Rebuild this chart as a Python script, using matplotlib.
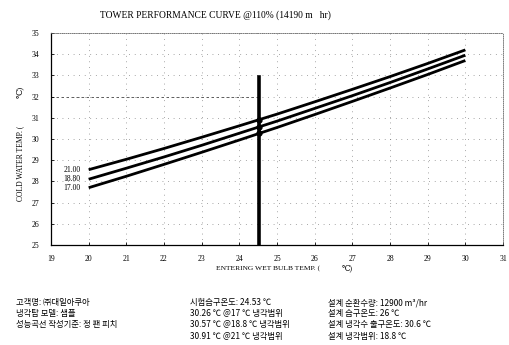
import matplotlib
matplotlib.use("Agg")
import matplotlib.pyplot as plt

# ---- data ----
x_wb = [20, 21, 22, 23, 24, 25, 26, 27, 28, 29, 30]
cw_21 = [28.55, 29.04, 29.55, 30.08, 30.62, 31.17, 31.75, 32.34, 32.94, 33.56, 34.20]
cw_188 = [28.10, 28.62, 29.15, 29.70, 30.27, 30.84, 31.44, 32.04, 32.66, 33.30, 33.95]
cw_17 = [27.70, 28.24, 28.80, 29.37, 29.95, 30.54, 31.15, 31.77, 32.40, 33.04, 33.70]
range_labels = ["21.00", "18.80", "17.00"]
test_wb = 24.53
test_cw = [30.91, 30.57, 30.26]
test_line_top = 32.9
xticks = list(range(19, 32))
yticks = list(range(25, 36))

col1 = ["고객명: ㈜대일아쿠아", "냉각탑 모델: 샘플", "성능곡선 작성기준: 정 팬 피치"]
col2 = ["시험습구온도: 24.53 ℃", "30.26 ℃ @17 ℃ 냉각범위",
        "30.57 ℃ @18.8 ℃ 냉각범위", "30.91 ℃ @21 ℃ 냉각범위"]
col3 = ["설계 순환수량: 12900 m³/hr", "설계 습구온도: 26 ℃",
        "설계 냉각수 출구온도: 30.6 ℃", "설계 냉각범위: 18.8 ℃"]

serif = ["Liberation Serif", "DejaVu Serif"]
kor = ["Noto Sans CJK KR", "DejaVu Sans"]

fig = plt.figure(figsize=(5.09, 3.45), dpi=100)
ax = fig.add_axes([0.1002, 0.290, 0.888, 0.6145])

for series in (cw_21, cw_188, cw_17):
    ax.plot(x_wb, series, color="black", lw=2.0, solid_capstyle="butt", zorder=3)

ax.plot([test_wb, test_wb], [25, test_line_top], color="black", lw=2.6, zorder=4)
ax.plot([test_wb] * 3, test_cw, "o", color="black", ms=3.5, zorder=5)

for lab, series in zip(range_labels, (cw_21, cw_188, cw_17)):
    ax.text(x_wb[0] - 0.22, series[0], lab, ha="right", va="center",
            fontsize=5.5, family=serif)

ax.set_xlim(19, 31)
ax.set_ylim(25, 35)
ax.set_xticks(xticks)
ax.set_yticks(yticks)
ax.set_xticklabels([str(v) for v in xticks], fontsize=5.5, family=serif)
ax.set_yticklabels([str(v) for v in yticks], fontsize=5.5, family=serif)
ax.tick_params(direction="in", length=2, width=0.6)
ax.tick_params(axis="x", pad=7)
ax.tick_params(axis="y", pad=8.5)
ax.grid(True, color="#555555", lw=0.5, ls=(0, (1, 7)))
ax.axhline(32, xmin=0, xmax=(test_wb - 19) / 12, color="#444444", lw=0.6,
           ls=(0, (3, 3)), zorder=1)

for s in ("top", "right"):
    ax.spines[s].set_linestyle((0, (1, 1.5)))
    ax.spines[s].set_linewidth(0.6)
    ax.spines[s].set_color("#666666")
for s in ("left", "bottom"):
    ax.spines[s].set_linewidth(0.9)

fig.text(0.197, 0.956, "TOWER PERFORMANCE CURVE @110% (14190 m   hr)",
         fontsize=6.85, family=serif, ha="left", va="center")
fig.text(0.424, 0.222, "ENTERING WET BULB TEMP. (", fontsize=5.4,
         family=serif, ha="left", va="center")
fig.text(0.672, 0.222, "℃)", fontsize=5.5, family=serif, ha="left", va="center")
fig.text(0.039, 0.527, "COLD WATER TEMP. (", rotation=90, fontsize=5.5,
         family=serif, ha="center", va="center")
fig.text(0.039, 0.733, "℃)", rotation=90, fontsize=6, family=serif,
         ha="center", va="center")

rows_y = [0.122, 0.090, 0.058, 0.026]
for i, t in enumerate(col1):
    fig.text(0.031, rows_y[i], t, fontsize=6.0, family=kor, ha="left", va="center")
for i, t in enumerate(col2):
    fig.text(0.373, rows_y[i], t, fontsize=6.0, family=kor, ha="left", va="center")
for i, t in enumerate(col3):
    fig.text(0.645, rows_y[i], t, fontsize=6.0, family=kor, ha="left", va="center")

fig.savefig("out.png", dpi=100)
